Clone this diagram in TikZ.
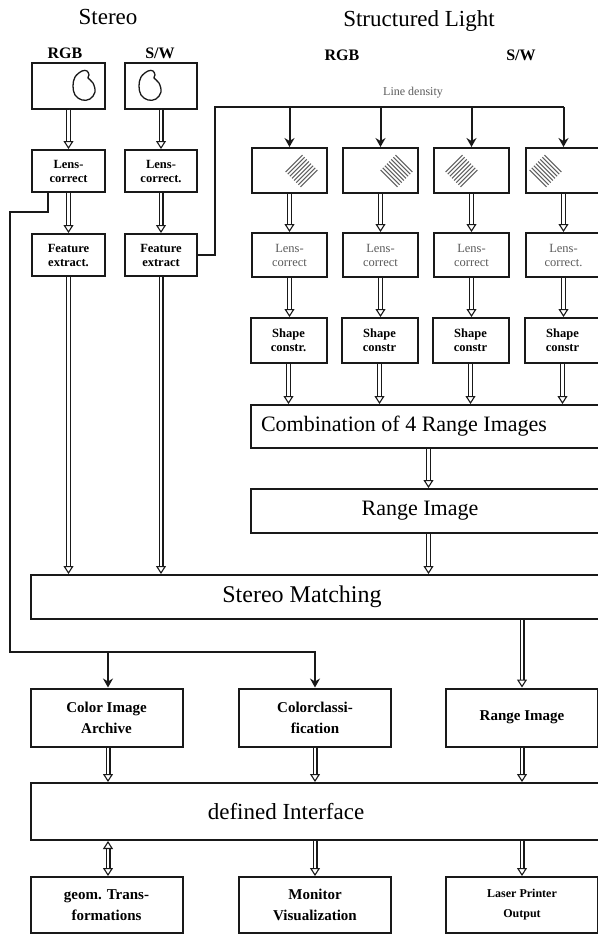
\documentclass[tikz,border=0pt]{standalone}
\usepackage{fontspec}
\setmainfont{Liberation Serif}
\usetikzlibrary{positioning,arrows.meta,calc}
\definecolor{ink}{RGB}{25,25,25}
\definecolor{hatch}{RGB}{95,95,95}
\definecolor{faint}{RGB}{90,90,90}

\begin{document}
\begin{tikzpicture}[x=1pt,y=-1pt,
    box/.style={draw=ink,line width=2pt,inner sep=0pt,align=center},
    cam/.style={box,minimum width=75pt,minimum height=45pt},
    small/.style={box,minimum width=75pt,minimum height=44pt,font=\bfseries\fontsize{12.5}{14}\selectfont},
    wide/.style={box,anchor=west,minimum width=575pt,minimum height=44pt},
    mid/.style={box,minimum width=152pt,minimum height=58pt,font=\bfseries\fontsize{15}{21}\selectfont},
    big/.style={font=\fontsize{22}{26}\selectfont},
    head/.style={font=\fontsize{23}{27}\selectfont},
    chan/.style={font=\bfseries\fontsize{16}{18}\selectfont},
    hollow/.style={draw=ink,double=white,line width=1.1pt,double distance=2.8pt,
      -{Triangle[open,length=8pt,width=10pt]}},
    feed/.style={draw=ink,line width=2pt,-{Stealth[length=9pt,width=10pt,inset=3pt]}}]
  \useasboundingbox (0,0) rectangle (597,934);
  % headings
  \node[head] (stereo) at (108,17) {Stereo};
  \node[head] (slight) at (419,21) {Structured Light};
  \node[chan] (rgbA) at (65,53) {RGB};
  \node[chan] (swA) at (160,53) {S/W};
  \node[chan] (rgbB) at (342,55) {RGB};
  \node[chan] (swB) at (521,55) {S/W};
  % stereo branch
  \node[cam,minimum width=73pt] (camRGB) at (68.5,86) {};
  \node[cam,minimum width=72pt] (camSW) at (161,86) {};
  \foreach \c in {(84,86),(150,86)}
    {\draw[ink,line width=1.3pt,shift={\c}] plot[smooth cycle,tension=0.6] coordinates
      {(-9,-9) (-2,-15) (3,-15) (5,-11) (4,-8) (9,-3) (11,6) (6,13) (-2,14) (-9,9) (-11,0)};}
  \node[small,minimum width=73pt,minimum height=42pt] (lensRGB) at (68.5,171) {Lens-\\correct};
  \node[small,minimum width=72pt,minimum height=42pt] (lensSW) at (161,171) {Lens-\\correct.};
  \node[small,minimum width=73pt,minimum height=42pt] (featRGB) at (68.5,255) {Feature\\extract.};
  \node[small,minimum width=72pt,minimum height=42pt] (featSW) at (161,255) {Feature\\extract};
  % structured light branch
  \foreach \x/\n/\r/\h/\l/\s in {289.5/1/45/12/Lens-\\correct/Shape\\constr.,
                                 380.5/2/-45/16/Lens-\\correct/Shape\\constr,
                                 471.5/3/45/-10/Lens-\\correct/Shape\\constr,
                                 563.5/4/-45/-18/Lens-\\correct./Shape\\constr}
    {\node[cam] (cam\n) at (\x,170.5) {};
     \begin{scope}[shift={(\x+\h,171)},rotate=\r]
       \foreach \k in {-3.5,-2.5,...,3.5}
         {\draw[hatch,line width=1pt] (-12,\k*3) -- (12,\k*3);}
     \end{scope}
     \node[small,font=\fontsize{12.5}{14}\selectfont,text=faint] (lens\n) at (\x,255) {\l};
     \node[small,minimum width=76pt,minimum height=45pt] (shape\n) at (\x-1,340.5) {\s};
     \draw[hollow] (cam\n) -- (lens\n);
     \draw[hollow] (lens\n) -- (lens\n |- shape\n.north);}
  \node[wide,minimum width=355pt,minimum height=43pt] (comb) at (250,426.5) {};
  \node[big] (combtxt) at (404,426.5) {Combination of 4 Range Images};
  \node[wide,minimum width=355pt] (range) at (250,511) {};
  \node[big] (rangetxt) at (420,511) {Range Image};
  \node[wide] (match) at (30,597) {};
  \node[big,font=\fontsize{24}{28}\selectfont] (matchtxt) at (302,597) {Stereo Matching};
  % output side
  \node[mid] (archive) at (106.5,717.5) {Color Image\\Archive};
  \node[mid] (colclass) at (315,717.5) {Colorclassi-\\fication};
  \node[mid] (rangeout) at (522,717.5) {Range Image};
  \node[wide,minimum height=57pt] (iface) at (30,811.5) {};
  \node[big,font=\fontsize{23}{27}\selectfont] (ifacetxt) at (286,811.5) {defined Interface};
  \node[mid,minimum height=56pt] (geom) at (106.5,905) {geom. Trans-\\formations};
  \node[mid,minimum height=56pt] (monitor) at (315,905) {Monitor\\Visualization};
  \node[mid,minimum height=56pt,font=\bfseries\fontsize{12}{20}\selectfont] (laser) at (522,905) {Laser Printer\\Output};
  % image flow
  \draw[hollow] (camRGB) -- (lensRGB);
  \draw[hollow] (camSW) -- (lensSW);
  \draw[hollow] (lensRGB) -- (featRGB);
  \draw[hollow] (lensSW) -- (featSW);
  \draw[hollow] (featRGB) -- (featRGB |- match.north);
  \draw[hollow] (featSW) -- (featSW |- match.north);
  \foreach \n in {1,...,4}
    {\draw[hollow] (shape\n) -- (shape\n |- comb.north);}
  \draw[hollow] (comb) -- (range);
  \draw[hollow] (range) -- (range.south |- match.north);
  \draw[hollow] (rangeout.north |- match.south) -- (rangeout);
  \draw[hollow] ([xshift=1.5pt]archive.south) -- ([xshift=1.5pt]archive.south |- iface.north);
  \draw[hollow] (colclass) -- (colclass |- iface.north);
  \draw[hollow] (rangeout) -- (rangeout |- iface.north);
  \draw[hollow,{Triangle[open,length=8pt,width=10pt]}-{Triangle[open,length=8pt,width=10pt]}]
    ([xshift=1.5pt]geom.north |- iface.south) -- ([xshift=1.5pt]geom.north);
  \draw[hollow] (monitor |- iface.south) -- (monitor);
  \draw[hollow] (laser |- iface.south) -- (laser);
  % control lines
  \coordinate (turnA) at (10,212);
  \coordinate (bus) at (10,652);
  \draw[feed] ([xshift=-20.5pt]lensRGB.south) |- (turnA) -- (bus) -| (colclass.north);
  \draw[feed] ([xshift=1.5pt]archive.north |- bus) -- ([xshift=1.5pt]archive.north);
  \coordinate (ld) at (215,107);
  \node[font=\fontsize{12}{14}\selectfont,text=faint] (density) at (413,93) {Line density};
  \draw[feed,-] (featSW.east) -| (ld) -- (cam4.north |- ld);
  \foreach \n in {1,...,4}
    {\draw[feed] (cam\n.north |- ld) -- (cam\n.north);}
\end{tikzpicture}
\end{document}
